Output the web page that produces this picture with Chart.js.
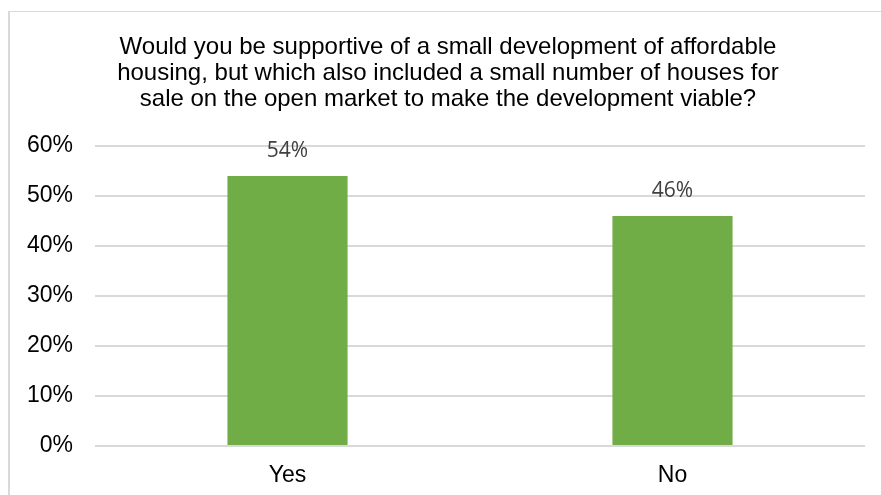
<!DOCTYPE html>
<html>
<head>
<meta charset="utf-8">
<script src="https://cdn.jsdelivr.net/npm/chart.js@4/dist/chart.umd.min.js"></script>
<style>
  body { margin: 0; background: #fff; }
  #frame {
    position: absolute; left: 8px; top: 11px; right: 0; bottom: 0;
    border-left: 2px solid #d9d9d9; border-top: 1px solid #d9d9d9;
  }
  #wrap { position: absolute; left: 0; top: 0; width: 881px; height: 495px; }
</style>
</head>
<body>
<div id="frame"></div>
<div id="wrap"><canvas id="chart"></canvas></div>
<script>
// données
var categories = ["Yes", "No"];
var values = [54, 46];
var yTicks = [0, 10, 20, 30, 40, 50, 60];
var titleLines = [
  "Would you be supportive of a small development of affordable",
  "housing, but which also included a small number of houses for",
  "sale on the open market to make the development viable?"
];

// titre dessiné à la main (centré comme dans l'original)
var titlePlugin = {
  id: "titlePlugin",
  afterDraw: function(chart) {
    var ctx = chart.ctx;
    ctx.save();
    ctx.font = "24px 'Liberation Sans', Arial";
    ctx.fillStyle = "#000";
    ctx.textAlign = "center";
    ctx.textBaseline = "middle";
    titleLines.forEach(function(line, i) {
      ctx.fillText(line, 448, 47 + i * 26.4);
    });
    ctx.restore();
  }
};

// étiquettes au-dessus des barres
var barLabels = {
  id: "barLabels",
  afterDatasetsDraw: function(chart) {
    var ctx = chart.ctx;
    var meta = chart.getDatasetMeta(0);
    ctx.save();
    ctx.font = "21px 'Open Sans'";
    ctx.fillStyle = "#404040";
    ctx.textAlign = "center";
    ctx.textBaseline = "middle";
    meta.data.forEach(function(bar, i) {
      ctx.fillText(values[i] + "%", bar.x, bar.y - 25);
    });
    ctx.restore();
  }
};

new Chart(document.getElementById("chart"), {
  type: "bar",
  data: {
    labels: categories,
    datasets: [{
      data: values,
      backgroundColor: "#70ad47",
      categoryPercentage: 1,
      barPercentage: 0.312
    }]
  },
  options: {
    responsive: true,
    maintainAspectRatio: false,
    animation: false,
    layout: { padding: { left: 23, right: 16, top: 146, bottom: 0 } },
    plugins: {
      legend: { display: false },
      tooltip: { enabled: false },
      title: { display: false }
    },
    scales: {
      x: {
        grid: { display: false },
        border: { display: false },
        afterFit: function(axis) { axis.height = 49; },
        ticks: { color: "#000", padding: 8, font: { family: "'Liberation Sans', Arial", size: 23 } }
      },
      y: {
        min: 0,
        max: 60,
        afterBuildTicks: function(axis) {
          axis.ticks = yTicks.map(function(v) { return { value: v }; });
        },
        afterFit: function(axis) { axis.width = 72; },
        grid: { color: "#d9d9d9", lineWidth: 2, drawTicks: false },
        border: { display: false },
        ticks: {
          color: "#000",
          padding: 22,
          font: { family: "'Liberation Sans', Arial", size: 23 },
          callback: function(v) { return v + "%"; }
        }
      }
    }
  },
  plugins: [titlePlugin, barLabels]
});
</script>
</body>
</html>
